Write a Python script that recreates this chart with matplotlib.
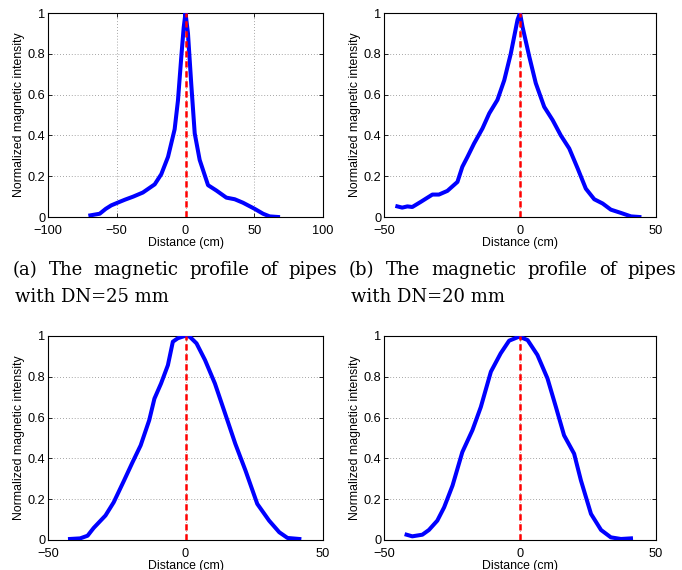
import matplotlib
matplotlib.use("Agg")
import matplotlib.pyplot as plt

# ---------- data ----------

x_a = [-69.2, -62.4, -58, -54, -48, -44, -38, -31, -22.4, -17.6, -12.7, -7.9, -5.5,
       -3, -1.3, 0, 1.8, 4.2, 6.7, 10.3, 16.4, 22.4, 29.7, 35.8, 41.8, 50.3, 56.4,
       61.2, 67.3]
y_a = [0.008, 0.016, 0.04, 0.057, 0.074, 0.085, 0.10, 0.12, 0.16, 0.21, 0.295, 0.43,
       0.57, 0.79, 0.93, 1.0, 0.9, 0.65, 0.41, 0.28, 0.156, 0.13, 0.095, 0.087, 0.07,
       0.04, 0.016, 0.003, 0.0]

x_b = [-45.1, -43.3, -41.4, -39.6, -36.5, -34, -32.2, -29.8, -26.7, -23, -21.2, -19.3,
       -16.9, -13.8, -11.3, -8.3, -5.8, -3.4, -0.9, 0, 0.9, 3.4, 5.8, 8.9, 12.0, 15,
       18.1, 21.2, 24.2, 27.3, 30.4, 33.4, 37.1, 40.8, 43.9]
y_b = [0.052, 0.046, 0.052, 0.049, 0.074, 0.095, 0.11, 0.11, 0.128, 0.172, 0.246,
       0.295, 0.36, 0.434, 0.508, 0.574, 0.67, 0.80, 0.967, 1.0, 0.934, 0.787, 0.656,
       0.54, 0.475, 0.40, 0.336, 0.238, 0.139, 0.087, 0.066, 0.036, 0.02, 0.003, 0.0]

x_c = [-42, -38.3, -35.6, -33.4, -29.1, -26.1, -22.4, -19.3, -16.3, -13.2, -11.3, -8.9,
       -6.4, -4.6, -2.8, -0.3, 1.5, 4, 7.1, 10.7, 14.4, 18.1, 21.8, 26.1, 30.4, 34.1,
       37.1, 41.4]
y_c = [0.005, 0.008, 0.021, 0.059, 0.12, 0.185, 0.29, 0.38, 0.464, 0.587, 0.693,
       0.767, 0.857, 0.972, 0.989, 1.0, 0.997, 0.964, 0.882, 0.767, 0.62, 0.472,
       0.341, 0.177, 0.095, 0.038, 0.01, 0.005]

x_d = [-41.7, -39.6, -35.9, -33.5, -30.4, -27.9, -24.8, -21.2, -17.5, -14.4, -10.7,
       -7.1, -4, -0.3, 2.8, 6.4, 10.1, 13.2, 16.2, 19.9, 22.4, 26.1, 29.8, 33.4, 37.1,
       40.8]
y_d = [0.026, 0.018, 0.026, 0.049, 0.095, 0.16, 0.267, 0.431, 0.538, 0.652, 0.825,
       0.915, 0.977, 0.997, 0.98, 0.907, 0.792, 0.652, 0.513, 0.423, 0.292, 0.128,
       0.049, 0.013, 0.005, 0.008]

xlims = [(-100, 100), (-50, 50), (-50, 50), (-50, 50)]
xticks = [[-100, -50, 0, 50, 100], [-50, 0, 50], [-50, 0, 50], [-50, 0, 50]]
yticks = [0, 0.2, 0.4, 0.6, 0.8, 1]
ytick_labels = ["0", "0.2", "0.4", "0.6", "0.8", "1"]

captions = [
    ("(a) The magnetic profile of pipes", "with DN=25 mm"),
    ("(b) The magnetic profile of pipes", "with DN=20 mm"),
]

W, H = 682, 570


def justify(fig, text, x0, x1, y, **kw):
    """Draw a line of words spread so it fills x0..x1 (pixels from top-left)."""
    words = text.split()
    r = fig.canvas.get_renderer()
    arts = [fig.text(0, 1 - y / H, w, va="center", ha="left", **kw) for w in words]
    widths = [a.get_window_extent(r).width for a in arts]
    gap = (x1 - x0 - sum(widths)) / (len(words) - 1)
    x = x0
    for a, w in zip(arts, widths):
        a.set_x(x / W)
        x += w + gap


plt.rcParams["font.family"] = ["Liberation Sans", "DejaVu Sans"]
fig = plt.figure(figsize=(W / 100, H / 100), dpi=100)

# axes boxes in pixels: left, top, right, bottom
boxes = [(48, 13, 323, 217), (384, 13, 656, 217),
         (48, 336, 323, 540), (384, 336, 656, 540)]
series = [(x_a, y_a), (x_b, y_b), (x_c, y_c), (x_d, y_d)]

for i, ((l, t, r, b), (xs, ys)) in enumerate(zip(boxes, series)):
    ax = fig.add_axes([l / W, 1 - b / H, (r - l) / W, (b - t) / H])
    ax.plot(xs, ys, color="#0000ff", linewidth=2.9, solid_joinstyle="round", zorder=3)
    ax.plot([0, 0], [0, 1], color="#ff0000", linestyle="--", linewidth=1.8,
            dashes=(2.5, 1.5), zorder=4)
    ax.set_xlim(*xlims[i])
    ax.set_ylim(0, 1)
    ax.set_xticks(xticks[i])
    ax.set_xticklabels([str(v).replace("-", "\u2212") for v in xticks[i]])
    ax.set_yticks(yticks)
    ax.set_yticklabels(ytick_labels)
    ax.tick_params(direction="in", top=True, right=True, length=3, width=0.6,
                   labelsize=9.2, pad=2, colors="black")
    ax.tick_params(axis="x", pad=5.5)
    ax.grid(True, linestyle=(0, (1, 2.5)), color="#888888", linewidth=0.6)
    for s in ax.spines.values():
        s.set_linewidth(0.8)
    ax.set_xlabel("Distance (cm)", fontsize=8.8, labelpad=0.5)
    ax.set_ylabel("Normalized magnetic intensity", fontsize=8.8, labelpad=2)

serif = dict(family="DejaVu Serif", fontsize=13)
cap_x = [(13, 337), (349, 676)]
for (x0, x1), (line1, line2) in zip(cap_x, captions):
    justify(fig, line1, x0, x1, 270, **serif)
    fig.text((x0 + 2) / W, 1 - 297 / H, line2, va="center", ha="left", **serif)

fig.savefig("out.png", dpi=100)
